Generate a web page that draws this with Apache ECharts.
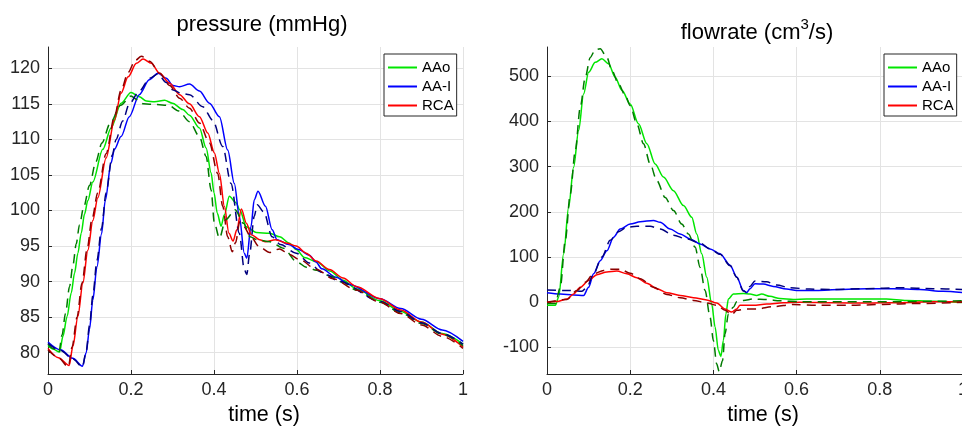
<!DOCTYPE html>
<html>
<head>
<meta charset="utf-8">
<script src="https://cdn.jsdelivr.net/npm/echarts@6/dist/echarts.min.js"></script>
<style>
html,body{margin:0;padding:0;background:#fff;}
#c{width:962px;height:428px;}
</style>
</head>
<body>
<div id="c"></div>
<script>
// ---------- DATA ----------
const legendNames = ['AAo', 'AA-I', 'RCA'];
const xTicks = [0, 0.2, 0.4, 0.6, 0.8, 1];
const pTicks = [80, 85, 90, 95, 100, 105, 110, 115, 120];
const qTicks = [-100, 0, 100, 200, 300, 400, 500];

// Pressure (mmHg) - AAo solid
const tP_AAo = [0,0.012,0.028,0.036,0.046,0.056,0.064,0.072,0.08,0.088,0.096,0.108,0.132,0.152,0.176,0.2,0.22,0.237,0.257,0.281,0.3,0.325,0.341,0.365,0.381,0.393,0.4,0.408,0.417,0.425,0.437,0.453,0.462,0.478,0.502,0.534,0.558,0.582,0.598,0.618,0.647,0.679,0.711,0.743,0.8,0.85,0.9,0.95,1.0];
const vP_AAo = [81.0,80.5,80.1,82.3,85.1,88.4,91.2,94.0,96.8,99.5,101.4,104.0,108.6,111.6,115.1,116.6,116.0,115.4,115.3,115.5,115.1,114.2,113.4,111.6,108.8,105.3,102.5,99.6,97.8,99.4,102.0,101.1,100.1,97.7,96.9,96.8,96.3,95.4,94.5,93.4,92.8,91.5,90.2,89.0,87.3,85.8,84.3,82.7,81.2];
// Pressure - AAo dashed
const tP_AAo2 = [0,0.012,0.026,0.034,0.042,0.052,0.06,0.068,0.076,0.086,0.1,0.115,0.13,0.15,0.175,0.2,0.215,0.23,0.26,0.29,0.315,0.341,0.365,0.381,0.393,0.401,0.413,0.428,0.451,0.471,0.487,0.503,0.535,0.567,0.599,0.623,0.647,0.68,0.71,0.743,0.8,0.85,0.9,0.95,1.0];
const vP_AAo2 = [81.2,80.6,80.0,82.5,85.5,89.3,92.3,95.3,98.0,100.5,103.5,106.8,109.5,112.3,114.8,116.1,115.6,115.0,114.9,114.8,114.0,112.5,110.4,107.6,102.9,98.2,96.1,98.7,100.1,98.2,96.3,95.9,95.6,94.7,92.8,92.0,91.6,90.8,89.9,88.8,87.1,85.6,84.1,82.6,81.0];
// Pressure - AA-I solid
const tP_AAI = [0,0.03,0.06,0.083,0.092,0.1,0.108,0.118,0.129,0.138,0.152,0.16,0.176,0.196,0.22,0.244,0.265,0.285,0.301,0.317,0.341,0.365,0.389,0.413,0.433,0.449,0.461,0.473,0.479,0.489,0.497,0.506,0.524,0.54,0.552,0.58,0.604,0.63,0.645,0.66,0.694,0.726,0.8,0.85,0.9,0.95,1.0];
const vP_AAI = [81.5,80.4,79.2,78.1,80.0,83.3,87.4,92.1,96.7,101.4,106.7,108.6,110.4,113.2,116.3,118.4,119.3,118.6,117.6,117.4,117.8,116.8,115.1,113.2,108.5,103.8,99.2,94.0,93.3,97.7,101.5,102.7,100.6,97.3,95.9,95.2,94.5,93.7,92.8,91.8,90.6,89.6,87.6,86.2,84.7,83.2,81.6];
// Pressure - AA-I dashed
const tP_AAI2 = [0,0.03,0.06,0.083,0.092,0.1,0.108,0.118,0.129,0.14,0.155,0.164,0.18,0.196,0.22,0.245,0.265,0.285,0.3,0.32,0.341,0.373,0.397,0.421,0.441,0.461,0.473,0.479,0.486,0.497,0.504,0.52,0.54,0.56,0.598,0.63,0.66,0.703,0.8,0.85,0.9,0.95,1.0];
const vP_AAI2 = [81.3,80.3,79.1,78.0,80.2,83.8,88.0,93.0,97.5,102.5,107.8,110.0,112.6,115.0,116.8,118.6,119.2,118.0,117.0,116.5,116.3,114.6,112.7,109.0,103.8,96.8,91.7,91.0,94.0,99.2,100.8,99.8,96.3,95.2,94.0,92.6,91.3,90.0,87.2,85.8,84.2,82.7,81.2];
// Pressure - RCA solid
const tP_RCA = [0,0.025,0.051,0.06,0.072,0.084,0.096,0.108,0.12,0.14,0.16,0.176,0.193,0.213,0.229,0.249,0.269,0.293,0.317,0.341,0.365,0.385,0.401,0.413,0.425,0.436,0.446,0.455,0.466,0.478,0.49,0.51,0.524,0.548,0.576,0.598,0.622,0.646,0.678,0.711,0.743,0.8,0.85,0.9,0.95,1.0];
const vP_RCA = [80.6,79.3,78.2,80.9,85.1,89.8,94.4,98.6,101.8,107.4,112.7,116.5,118.8,120.7,121.3,120.7,119.3,117.9,116.3,115.0,113.2,110.9,108.1,105.2,100.6,96.8,95.7,97.3,100.2,98.2,96.6,95.9,95.6,95.9,95.4,95.0,94.0,92.9,91.7,90.5,89.3,87.6,86.0,84.3,82.6,80.8];
// Pressure - RCA dashed
const tP_RCA2 = [0,0.025,0.049,0.058,0.07,0.082,0.094,0.106,0.12,0.14,0.16,0.176,0.193,0.21,0.225,0.245,0.269,0.293,0.317,0.341,0.365,0.389,0.409,0.421,0.433,0.444,0.452,0.462,0.472,0.489,0.509,0.534,0.558,0.582,0.606,0.647,0.687,0.743,0.8,0.85,0.9,0.95,1.0];
const vP_RCA2 = [80.4,79.3,78.0,80.8,85.0,89.8,94.5,98.8,102.5,108.0,113.2,116.9,119.4,121.1,121.7,121.0,119.3,117.6,115.8,114.4,112.3,109.5,105.2,100.6,96.3,94.2,95.5,98.4,97.7,96.3,94.9,94.1,94.6,93.8,93.1,91.7,90.4,88.8,87.1,85.5,83.9,82.3,80.6];

// Flowrate (cm^3/s) - AAo solid
const tQ_AAo = [0,0.02,0.028,0.04,0.052,0.064,0.076,0.088,0.1,0.116,0.132,0.148,0.164,0.18,0.2,0.22,0.24,0.26,0.28,0.304,0.328,0.348,0.36,0.372,0.384,0.396,0.404,0.412,0.418,0.424,0.43,0.436,0.448,0.472,0.488,0.504,0.516,0.536,0.56,0.592,0.624,0.688,0.768,0.816,0.864,0.928,1.0];
const vQ_AAo = [-7,-7,11,107,210,299,380,461,509,531,539,528,498,469,439,395,351,306,277,247,214,188,151,107,55,-4,-55,-107,-120,-85,-26,7,18,19,18,15,18,13,8,6,7,7,7,7,4,2,-1];
// Flowrate - AAo dashed
const tQ_AAo2 = [0,0.02,0.032,0.044,0.056,0.068,0.08,0.092,0.104,0.116,0.128,0.144,0.156,0.172,0.188,0.2,0.216,0.232,0.248,0.264,0.284,0.304,0.324,0.34,0.356,0.368,0.38,0.392,0.4,0.408,0.414,0.422,0.428,0.436,0.448,0.456,0.472,0.496,0.528,0.56,0.608,0.688,0.768,0.848,0.928,1.0];
const vQ_AAo2 = [-3,-3,33,137,240,336,432,498,542,559,561,542,513,483,458,435,395,351,306,269,232,203,173,151,122,77,26,-33,-85,-137,-154,-129,-70,-26,-11,1,4,7,6,3,1,1,1,1,2,3];
// Flowrate - AA-I solid
const tQ_AAI = [0,0.032,0.064,0.088,0.1,0.112,0.128,0.144,0.16,0.176,0.2,0.224,0.256,0.272,0.296,0.32,0.344,0.368,0.392,0.416,0.44,0.456,0.472,0.48,0.488,0.5,0.52,0.544,0.576,0.6,0.648,0.704,0.768,0.832,0.896,0.952,1.0];
const vQ_AAI = [21,18,16,15,33,63,92,114,144,162,173,178,181,177,162,151,140,129,118,107,82,56,26,21,30,41,40,35,29,26,26,28,30,30,28,24,21];
// Flowrate - AA-I dashed
const tQ_AAI2 = [0,0.048,0.084,0.096,0.112,0.132,0.152,0.172,0.192,0.216,0.248,0.272,0.304,0.336,0.368,0.392,0.416,0.44,0.456,0.472,0.48,0.488,0.5,0.528,0.552,0.584,0.632,0.688,0.768,0.848,0.928,1.0];
const vQ_AAI2 = [27,26,24,33,63,100,137,156,166,168,168,162,148,140,131,118,106,81,55,25,22,35,47,45,38,32,29,28,30,32,30,28];
// Flowrate - RCA solid
const tQ_RCA = [0,0.024,0.048,0.064,0.08,0.1,0.12,0.144,0.168,0.192,0.216,0.24,0.264,0.288,0.32,0.352,0.384,0.408,0.428,0.444,0.456,0.464,0.496,0.528,0.568,0.608,0.688,0.768,0.848,0.928,1.0];
const vQ_RCA = [0,1.5,7,18,33,48,61,67,69,63,54,42,30,21,15,10,5,-2,-15,-22,-15,-7,-7,-4,-1.5,0,-1.5,-2,-1,1,1];
// Flowrate - RCA dashed
const tQ_RCA2 = [0,0.048,0.072,0.092,0.112,0.136,0.156,0.176,0.2,0.224,0.256,0.288,0.32,0.352,0.384,0.408,0.428,0.444,0.456,0.48,0.504,0.544,0.592,0.648,0.728,0.808,0.888,1.0];
const vQ_RCA2 = [0,6,26,44,63,70,73,73,64,52,33,17,10,4,-1.5,-7,-18,-28,-18,-15,-15,-10,-5,-7,-7,-5,-3,0];

// ---------- CHART ----------
const FONT = '"Liberation Sans", Arial, Helvetica, sans-serif';
const INK = '#262626';
const GREEN = '#00e600', BLUE = '#0000ff', RED = '#ff0000';
const DGREEN = '#007a00', DBLUE = '#00007f', DRED = '#8c0000';

function zip(t, v) { return t.map((x, i) => [x, v[i]]); }

function mkSeries(name, t, v, color, dashed, idx) {
  return {
    type: 'line', name: name, xAxisIndex: idx, yAxisIndex: idx,
    data: zip(t, v), showSymbol: false, symbol: 'none',
    smooth: 0.3, smoothMonotone: 'x',
    color: color,
    lineStyle: { color: color, width: 1.5, type: dashed ? [9, 6] : 'solid' },
    emphasis: { disabled: true }, animation: false
  };
}

function xAx(idx) {
  return {
    type: 'value', gridIndex: idx, min: 0, max: 1, interval: 0.2,
    axisLine: { show: true, onZero: false, lineStyle: { color: INK, width: 1 } },
    axisTick: { show: true, inside: true, length: 4, lineStyle: { color: INK } },
    axisLabel: { color: INK, fontSize: 18, fontFamily: FONT, margin: 7, showMaxLabel: true, hideOverlap: false,
      formatter: v => String(Math.round(v * 10) / 10) },
    splitLine: { show: true, lineStyle: { color: '#e3e3e3', width: 1 } }
  };
}
function yAx(idx, min, max, ticks) {
  return {
    type: 'value', gridIndex: idx, min: min, max: max,
    axisLine: { show: true, onZero: false, lineStyle: { color: INK, width: 1 } },
    axisTick: { show: true, inside: true, length: 4, lineStyle: { color: INK }, customValues: ticks },
    axisLabel: { color: INK, fontSize: 18, fontFamily: FONT, margin: 8, customValues: ticks },
    splitLine: { show: true, lineStyle: { color: '#e3e3e3', width: 1 } }
  };
}
function leg(left) {
  return {
    data: legendNames, orient: 'vertical', left: left, top: 54,
    icon: 'rect', itemWidth: 29, itemHeight: 2, itemGap: 4,
    padding: [6, 3, 3, 4], borderColor: INK, borderWidth: 1, backgroundColor: '#fff',
    selectedMode: false,
    textStyle: { color: '#000', fontSize: 15, fontFamily: FONT, lineHeight: 15 }
  };
}

const chart = echarts.init(document.getElementById('c'), null, { renderer: 'canvas' });
chart.setOption({
  backgroundColor: '#fff',
  animation: false,
  grid: [
    { left: 48, top: 47, width: 415, height: 327, containLabel: false, outerBoundsMode: 'none' },
    { left: 547, top: 47, width: 416, height: 327, containLabel: false, outerBoundsMode: 'none' }
  ],
  xAxis: [xAx(0), xAx(1)],
  yAxis: [yAx(0, 77, 123, pTicks), yAx(1, -159, 565, qTicks)],
  legend: [leg(384), leg(884)],
  graphic: [
    { type: 'text', x: 262, y: 25, style: { text: 'pressure (mmHg)', fill: '#000', font: '22px ' + FONT, align: 'center', verticalAlign: 'middle' } },
    { type: 'text', x: 757, y: 33, style: { text: '{n|flowrate (cm}{s|3}{n|/s)}', fill: '#000', align: 'center', verticalAlign: 'middle',
        rich: { n: { fontSize: 22, fontFamily: FONT, lineHeight: 22, verticalAlign: 'bottom', fill: '#000' },
                s: { fontSize: 15, fontFamily: FONT, lineHeight: 15, verticalAlign: 'bottom', padding: [0, 0, 12, 0], fill: '#000' } } } },
    { type: 'text', x: 264, y: 415, style: { text: 'time (s)', fill: '#000', font: '21.5px ' + FONT, align: 'center', verticalAlign: 'middle' } },
    { type: 'text', x: 763, y: 415, style: { text: 'time (s)', fill: '#000', font: '21.5px ' + FONT, align: 'center', verticalAlign: 'middle' } }
  ],
  series: [
    mkSeries('AAo', tP_AAo, vP_AAo, GREEN, false, 0),
    mkSeries('AA-I', tP_AAI, vP_AAI, BLUE, false, 0),
    mkSeries('RCA', tP_RCA, vP_RCA, RED, false, 0),
    mkSeries('AAo ref', tP_AAo2, vP_AAo2, DGREEN, true, 0),
    mkSeries('AA-I ref', tP_AAI2, vP_AAI2, DBLUE, true, 0),
    mkSeries('RCA ref', tP_RCA2, vP_RCA2, DRED, true, 0),
    mkSeries('AAo', tQ_AAo, vQ_AAo, GREEN, false, 1),
    mkSeries('AA-I', tQ_AAI, vQ_AAI, BLUE, false, 1),
    mkSeries('RCA', tQ_RCA, vQ_RCA, RED, false, 1),
    mkSeries('AAo ref', tQ_AAo2, vQ_AAo2, DGREEN, true, 1),
    mkSeries('AA-I ref', tQ_AAI2, vQ_AAI2, DBLUE, true, 1),
    mkSeries('RCA ref', tQ_RCA2, vQ_RCA2, DRED, true, 1)
  ]
});
</script>
</body>
</html>
